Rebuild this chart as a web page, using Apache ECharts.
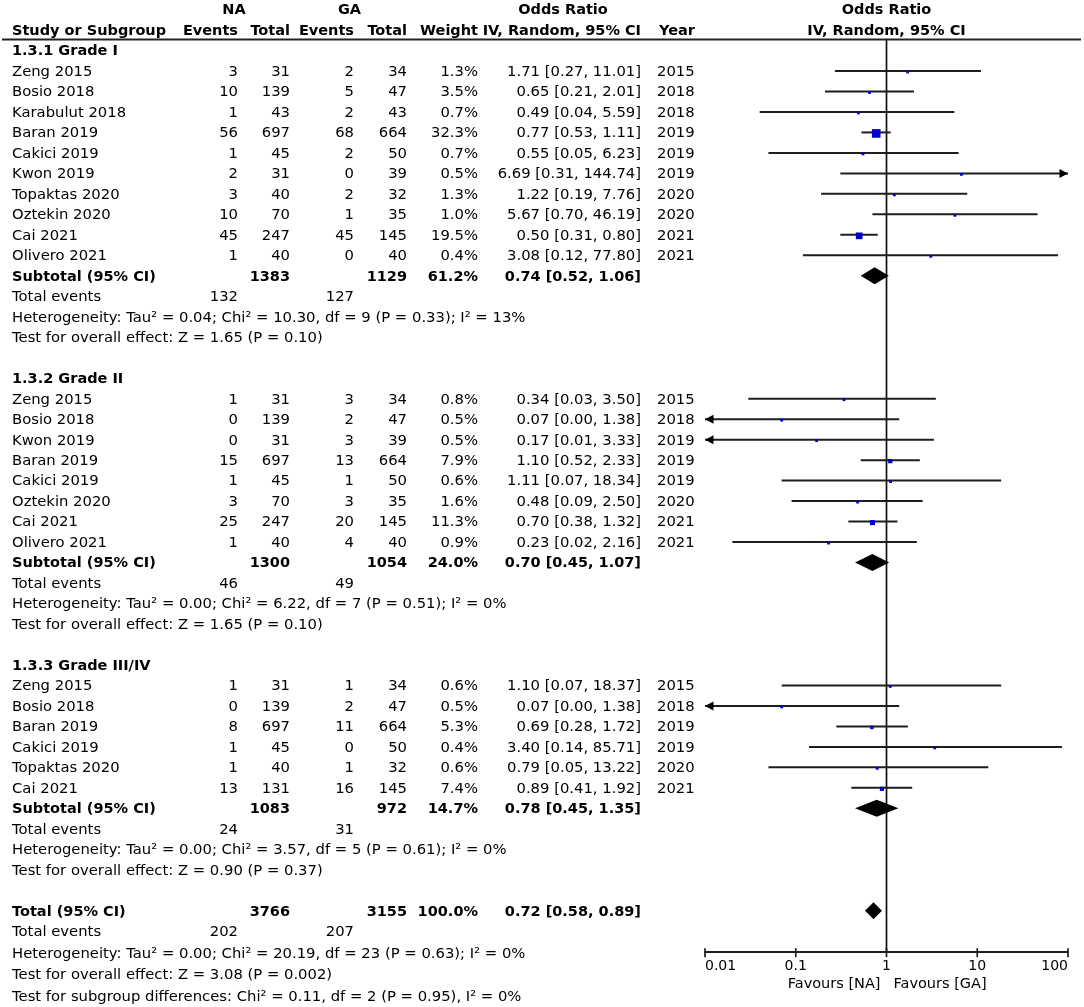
<!DOCTYPE html>
<html><head><meta charset="utf-8">
<script src="https://cdn.jsdelivr.net/npm/echarts@6/dist/echarts.min.js"></script>
<style>html,body{margin:0;padding:0;background:#fff}#c{width:1084px;height:1007px}</style>
</head><body><div id="c"></div>
<script>
// ---------- data ----------
const g1Names = ['Zeng 2015','Bosio 2018','Karabulut 2018','Baran 2019','Cakici 2019','Kwon 2019','Topaktas 2020','Oztekin 2020','Cai 2021','Olivero 2021'];
const g1NaEvents = [3,10,1,56,1,2,3,10,45,1];
const g1NaTotal = [31,139,43,697,45,31,40,70,247,40];
const g1GaEvents = [2,5,2,68,2,0,2,1,45,0];
const g1GaTotal = [34,47,43,664,50,39,32,35,145,40];
const g1Weight = [1.3,3.5,0.7,32.3,0.7,0.5,1.3,1.0,19.5,0.4];
const g1OR = [1.71,0.65,0.49,0.77,0.55,6.69,1.22,5.67,0.50,3.08];
const g1Lo = [0.27,0.21,0.04,0.53,0.05,0.31,0.19,0.70,0.31,0.12];
const g1Hi = [11.01,2.01,5.59,1.11,6.23,144.74,7.76,46.19,0.80,77.80];
const g1Year = [2015,2018,2018,2019,2019,2019,2020,2020,2021,2021];

const g2Names = ['Zeng 2015','Bosio 2018','Kwon 2019','Baran 2019','Cakici 2019','Oztekin 2020','Cai 2021','Olivero 2021'];
const g2NaEvents = [1,0,0,15,1,3,25,1];
const g2NaTotal = [31,139,31,697,45,70,247,40];
const g2GaEvents = [3,2,3,13,1,3,20,4];
const g2GaTotal = [34,47,39,664,50,35,145,40];
const g2Weight = [0.8,0.5,0.5,7.9,0.6,1.6,11.3,0.9];
const g2OR = [0.34,0.07,0.17,1.10,1.11,0.48,0.70,0.23];
const g2Lo = [0.03,0.00,0.01,0.52,0.07,0.09,0.38,0.02];
const g2Hi = [3.50,1.38,3.33,2.33,18.34,2.50,1.32,2.16];
const g2Year = [2015,2018,2019,2019,2019,2020,2021,2021];

const g3Names = ['Zeng 2015','Bosio 2018','Baran 2019','Cakici 2019','Topaktas 2020','Cai 2021'];
const g3NaEvents = [1,0,8,1,1,13];
const g3NaTotal = [31,139,697,45,40,131];
const g3GaEvents = [1,2,11,0,1,16];
const g3GaTotal = [34,47,664,50,32,145];
const g3Weight = [0.6,0.5,5.3,0.4,0.6,7.4];
const g3OR = [1.10,0.07,0.69,3.40,0.79,0.89];
const g3Lo = [0.07,0.00,0.28,0.14,0.05,0.41];
const g3Hi = [18.37,1.38,1.72,85.71,13.22,1.92];
const g3Year = [2015,2018,2019,2019,2020,2021];

const subTitles = ['1.3.1 Grade I','1.3.2 Grade II','1.3.3 Grade III/IV'];
const subNaTotal = [1383,1300,1083];
const subGaTotal = [1129,1054,972];
const subWeight = [61.2,24.0,14.7];
const subOR = [0.74,0.70,0.78];
const subLo = [0.52,0.45,0.45];
const subHi = [1.06,1.07,1.35];
const subEventsNA = [132,46,24];
const subEventsGA = [127,49,31];
const subHetero = [
  'Heterogeneity: Tau\u00b2 = 0.04; Chi\u00b2 = 10.30, df = 9 (P = 0.33); I\u00b2 = 13%',
  'Heterogeneity: Tau\u00b2 = 0.00; Chi\u00b2 = 6.22, df = 7 (P = 0.51); I\u00b2 = 0%',
  'Heterogeneity: Tau\u00b2 = 0.00; Chi\u00b2 = 3.57, df = 5 (P = 0.61); I\u00b2 = 0%'
];
const subEffect = [
  'Test for overall effect: Z = 1.65 (P = 0.10)',
  'Test for overall effect: Z = 1.65 (P = 0.10)',
  'Test for overall effect: Z = 0.90 (P = 0.37)'
];
const totNaTotal = [3766];
const totGaTotal = [3155];
const totWeight = [100.0];
const totOR = [0.72];
const totLo = [0.58];
const totHi = [0.89];
const totEventsNA = [202];
const totEventsGA = [207];
const totHetero = ['Heterogeneity: Tau\u00b2 = 0.00; Chi\u00b2 = 20.19, df = 23 (P = 0.63); I\u00b2 = 0%'];
const totEffect = ['Test for overall effect: Z = 3.08 (P = 0.002)'];
const subgroupTest = ['Test for subgroup differences: Chi\u00b2 = 0.11, df = 2 (P = 0.95), I\u00b2 = 0%'];
const axisTickValues = [0.01, 0.1, 1, 10, 100];
const favourLabels = ['Favours [NA]', 'Favours [GA]'];

// ---------- layout ----------
const AX_MIN = 0.01, AX_MAX = 100;
const Y_MIN = -0.537, Y_MAX = 44;
const X = {study: 12, naEv: 238, naTot: 290, gaEv: 354, gaTot: 407, weight: 478, or: 641, year: 657};
const FONT = 'DejaVu Sans';
const FS = 14.8, FSB = 14.5;
const TEXT_DY = 1;

const groups = [
  {names:g1Names, naE:g1NaEvents, naT:g1NaTotal, gaE:g1GaEvents, gaT:g1GaTotal, w:g1Weight, or:g1OR, lo:g1Lo, hi:g1Hi, yr:g1Year},
  {names:g2Names, naE:g2NaEvents, naT:g2NaTotal, gaE:g2GaEvents, gaT:g2GaTotal, w:g2Weight, or:g2OR, lo:g2Lo, hi:g2Hi, yr:g2Year},
  {names:g3Names, naE:g3NaEvents, naT:g3NaTotal, gaE:g3GaEvents, gaT:g3GaTotal, w:g3Weight, or:g3OR, lo:g3Lo, hi:g3Hi, yr:g3Year}
];
const fmtOR = (o,l,h) => o.toFixed(2) + ' [' + l.toFixed(2) + ', ' + h.toFixed(2) + ']';

const texts = []; // [row, text, x, align, bold]
const studyMarks = []; // [loClamped, hiClamped, est, row, weight, arrowL, arrowR]
const diamonds = []; // [lo, hi, est, row]
let r = 0;
groups.forEach((g, gi) => {
  texts.push([r, subTitles[gi], X.study, 'left', true]); r++;
  g.names.forEach((n, i) => {
    texts.push([r, n, X.study, 'left', false]);
    texts.push([r, String(g.naE[i]), X.naEv, 'right', false]);
    texts.push([r, String(g.naT[i]), X.naTot, 'right', false]);
    texts.push([r, String(g.gaE[i]), X.gaEv, 'right', false]);
    texts.push([r, String(g.gaT[i]), X.gaTot, 'right', false]);
    texts.push([r, g.w[i].toFixed(1) + '%', X.weight, 'right', false]);
    texts.push([r, fmtOR(g.or[i], g.lo[i], g.hi[i]), X.or, 'right', false]);
    texts.push([r, String(g.yr[i]), X.year, 'left', false]);
    studyMarks.push([Math.max(g.lo[i], AX_MIN), Math.min(g.hi[i], AX_MAX), g.or[i], r, g.w[i],
      g.lo[i] <= AX_MIN ? 1 : 0, g.hi[i] > AX_MAX ? 1 : 0]);
    r++;
  });
  texts.push([r, 'Subtotal (95% CI)', X.study, 'left', true]);
  texts.push([r, String(subNaTotal[gi]), X.naTot, 'right', true]);
  texts.push([r, String(subGaTotal[gi]), X.gaTot, 'right', true]);
  texts.push([r, subWeight[gi].toFixed(1) + '%', X.weight, 'right', true]);
  texts.push([r, fmtOR(subOR[gi], subLo[gi], subHi[gi]), X.or, 'right', true]);
  diamonds.push([subLo[gi], subHi[gi], subOR[gi], r]);
  r++;
  texts.push([r, 'Total events', X.study, 'left', false]);
  texts.push([r, String(subEventsNA[gi]), X.naEv, 'right', false]);
  texts.push([r, String(subEventsGA[gi]), X.gaEv, 'right', false]);
  r++;
  texts.push([r, subHetero[gi], X.study, 'left', false]); r++;
  texts.push([r, subEffect[gi], X.study, 'left', false]); r++;
  r++;
});
texts.push([r, 'Total (95% CI)', X.study, 'left', true]);
texts.push([r, String(totNaTotal[0]), X.naTot, 'right', true]);
texts.push([r, String(totGaTotal[0]), X.gaTot, 'right', true]);
texts.push([r, totWeight[0].toFixed(1) + '%', X.weight, 'right', true]);
texts.push([r, fmtOR(totOR[0], totLo[0], totHi[0]), X.or, 'right', true]);
diamonds.push([totLo[0], totHi[0], totOR[0], r]);
r++;
texts.push([r, 'Total events', X.study, 'left', false]);
texts.push([r, String(totEventsNA[0]), X.naEv, 'right', false]);
texts.push([r, String(totEventsGA[0]), X.gaEv, 'right', false]);
r++;
texts.push([r + 0.05, totHetero[0], X.study, 'left', false]); r++;
texts.push([r + 0.1, totEffect[0], X.study, 'left', false]); r++;
texts.push([r + 0.15, subgroupTest[0], X.study, 'left', false]); r++;

// headers
texts.push([-2, 'NA', 234, 'center', true]);
texts.push([-2, 'GA', 349.5, 'center', true]);
texts.push([-2, 'Odds Ratio', 563, 'center', true]);
texts.push([-1, 'Study or Subgroup', X.study, 'left', true]);
texts.push([-1, 'Events', X.naEv, 'right', true]);
texts.push([-1, 'Total', X.naTot, 'right', true]);
texts.push([-1, 'Events', X.gaEv, 'right', true]);
texts.push([-1, 'Total', X.gaTot, 'right', true]);
texts.push([-1, 'Weight', X.weight, 'right', true]);
texts.push([-1, 'IV, Random, 95% CI', X.or, 'right', true]);
texts.push([-1, 'Year', 659, 'left', true]);

const LINE = '#1e1e1e';
const chart = echarts.init(document.getElementById('c'), null, {renderer: 'canvas'});
chart.setOption({
  animation: false,
  backgroundColor: '#fff',
  grid: {left: 705, right: 16, top: 39.5, bottom: 55.3, containLabel: false},
  xAxis: {
    type: 'log', logBase: 10, min: AX_MIN, max: AX_MAX,
    axisLine: {show: true, onZero: false, lineStyle: {color: LINE, width: 1.8}},
    axisTick: {show: false},
    splitLine: {show: false},
    minorTick: {show: false},
    axisLabel: {color: '#000', fontSize: 14, fontFamily: FONT, margin: 8,
      alignMinLabel: 'left', alignMaxLabel: 'right', showMinLabel: true, showMaxLabel: true}
  },
  yAxis: {type: 'value', min: Y_MIN, max: Y_MAX, inverse: true, show: false},
  series: [
    {
      type: 'line', silent: true, symbol: 'none',
      data: [[1, Y_MIN], [1, Y_MAX]],
      lineStyle: {color: '#111', width: 1.7}, z: 2
    },
    {
      type: 'custom', silent: true, z: 3,
      data: axisTickValues.map(v => [v]),
      encode: {x: 0},
      renderItem: (params, api) => {
        const p = api.coord([api.value(0), Y_MAX]);
        return {type: 'line', shape: {x1: p[0], y1: p[1] - 3.5, x2: p[0], y2: p[1] + 5.5},
          style: {stroke: LINE, lineWidth: 1.7}};
      }
    },
    {
      type: 'custom', silent: true, z: 4,
      data: studyMarks,
      encode: {x: [0, 1, 2], y: 3},
      renderItem: (params, api) => {
        const lo = api.value(0), hi = api.value(1), est = api.value(2), row = api.value(3), w = api.value(4);
        const aL = api.value(5), aR = api.value(6);
        const p1 = api.coord([lo, row]), p2 = api.coord([hi, row]), pc = api.coord([est, row]);
        const children = [{type: 'line', shape: {x1: p1[0], y1: p1[1], x2: p2[0], y2: p2[1]},
          style: {stroke: LINE, lineWidth: 2}}];
        if (aL) children.push({type: 'polygon', shape: {points: [[p1[0], p1[1]], [p1[0] + 8.5, p1[1] - 4.5], [p1[0] + 8.5, p1[1] + 4.5]]}, style: {fill: '#000'}});
        if (aR) children.push({type: 'polygon', shape: {points: [[p2[0], p2[1]], [p2[0] - 8.5, p2[1] - 4.5], [p2[0] - 8.5, p2[1] + 4.5]]}, style: {fill: '#000'}});
        const s = Math.max(2.8, 1.52 * Math.sqrt(w));
        children.push({type: 'rect', shape: {x: pc[0] - s / 2, y: pc[1] + 1 - s / 2, width: s, height: s}, style: {fill: '#0000cc'}});
        return {type: 'group', children};
      }
    },
    {
      type: 'custom', silent: true, z: 5,
      data: diamonds,
      encode: {x: [0, 1, 2], y: 3},
      renderItem: (params, api) => {
        const lo = api.coord([api.value(0), api.value(3)]);
        const hi = api.coord([api.value(1), api.value(3)]);
        const c = api.coord([api.value(2), api.value(3)]);
        const h = 8.5;
        return {type: 'polygon', shape: {points: [[lo[0], lo[1]], [c[0], c[1] - h], [hi[0], hi[1]], [c[0], c[1] + h]]},
          style: {fill: '#000'}};
      }
    }
  ]
});

const yPx = row => chart.convertToPixel({gridIndex: 0}, [1, row])[1];
const xOne = chart.convertToPixel({gridIndex: 0}, [1, 0])[0];
const axisY = yPx(Y_MAX);
const graphics = texts.map(t => ({
  type: 'text', silent: true,
  style: {text: t[1], x: t[2], y: yPx(t[0]) + TEXT_DY, align: t[3], verticalAlign: 'middle',
    fill: '#000', fontFamily: FONT, fontSize: t[4] ? FSB : FS, fontWeight: t[4] ? 'bold' : 'normal'}
}));
graphics.push({type: 'text', silent: true, style: {text: 'Odds Ratio', x: xOne, y: yPx(-2) + TEXT_DY, align: 'center', verticalAlign: 'middle', fill: '#000', fontFamily: FONT, fontSize: FSB, fontWeight: 'bold'}});
graphics.push({type: 'text', silent: true, style: {text: 'IV, Random, 95% CI', x: xOne, y: yPx(-1) + TEXT_DY, align: 'center', verticalAlign: 'middle', fill: '#000', fontFamily: FONT, fontSize: FSB, fontWeight: 'bold'}});
graphics.push({type: 'text', silent: true, style: {text: favourLabels[0], x: xOne - 6, y: axisY + 33, align: 'right', verticalAlign: 'middle', fill: '#000', fontFamily: FONT, fontSize: 14.5}});
graphics.push({type: 'text', silent: true, style: {text: favourLabels[1], x: xOne + 7, y: axisY + 33, align: 'left', verticalAlign: 'middle', fill: '#000', fontFamily: FONT, fontSize: 14.5}});
graphics.push({type: 'line', silent: true, shape: {x1: 2, y1: yPx(Y_MIN), x2: 1081, y2: yPx(Y_MIN)}, style: {stroke: '#222', lineWidth: 2.2}});
chart.setOption({graphic: graphics});
</script>
</body></html>
